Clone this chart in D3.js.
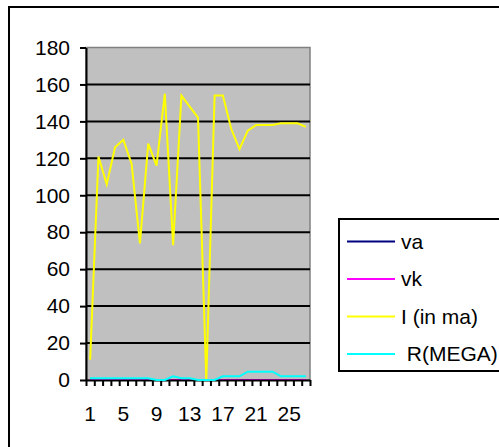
<!DOCTYPE html>
<html>
<head>
<meta charset="utf-8">
<script src="https://cdn.jsdelivr.net/npm/d3@7"></script>
<style>
  body { margin: 0; background: #fff; }
  svg { display: block; font-family: "Liberation Sans", Arial, sans-serif; }
</style>
</head>
<body>
<div id="chart"></div>
<script>
// categories on the x axis
const days = [1,2,3,4,5,6,7,8,9,10,11,12,13,14,15,16,17,18,19,20,21,22,23,24,25,26,27];
// series values
const vaValues = [0,0,0,0,0,0,0,0,0,0,0,0,0,0,0,0,0,0,0,0,0,0,0,0,0,0,0];
const vkValues = [0,0,0,0,0,0,0,0,0,0,0,0,0,0,0,0,0,0,0,0,0,0,0,0,0,0,0];
const iValues = [11,121,106,126,130,117,74,128,116,155,73,154,148,142,0,154,154,136,125,135,138,138,138,139,139,139,137];
const rValues = [1,1,1,1,1,1,1,1,0,0,2,1,1,0,0,0,2,2,2,4.5,4.5,4.5,4.5,2,2,2,2];
// tick labels
const yTicks = [0,20,40,60,80,100,120,140,160,180];
const xLabels = [1,5,9,13,17,21,25];
const seriesNames = ['va', 'vk', 'I (in ma)', ' R(MEGA)'];
const seriesColors = ['#000080', '#ff00ff', '#ffff00', '#00ffff'];

const svgW = 499, svgH = 447;
const plot = { left: 86, right: 310, top: 47.5, bottom: 380 };

const svg = d3.select('#chart').append('svg')
  .attr('width', svgW)
  .attr('height', svgH);

// outer chart border (runs off the right and bottom edges)
svg.append('rect')
  .attr('x', 9).attr('y', 7)
  .attr('width', 520).attr('height', 470)
  .attr('fill', '#fff')
  .attr('stroke', '#000').attr('stroke-width', 2);

// scales
const x = d3.scaleBand().domain(days).range([plot.left, plot.right]).padding(0);
const xEdge = d3.scaleLinear().domain([0, days.length]).range([plot.left, plot.right]);
const y = d3.scaleLinear().domain([0, 180]).range([plot.bottom, plot.top]);

// grey plot area
svg.append('rect')
  .attr('x', plot.left).attr('y', plot.top)
  .attr('width', plot.right - plot.left).attr('height', plot.bottom - plot.top)
  .attr('fill', '#c0c0c0')
  .attr('stroke', '#808080').attr('stroke-width', 1.5);

// horizontal gridlines
svg.append('g')
  .selectAll('line')
  .data(yTicks.filter(v => v > 0 && v < 180))
  .join('line')
  .attr('x1', plot.left).attr('x2', plot.right)
  .attr('y1', d => y(d)).attr('y2', d => y(d))
  .attr('stroke', '#000').attr('stroke-width', 2);

const line = vals => d3.line()
  .x((d, i) => x(days[i]) + x.bandwidth() / 2)
  .y(d => y(d))(vals);

// va and vk sit on the zero line
[vaValues, vkValues].forEach((vals, k) => {
  svg.append('path')
    .attr('d', line(vals))
    .attr('fill', 'none')
    .attr('stroke', seriesColors[k])
    .attr('stroke-width', 2);
});

// x axis tick marks at the category edges
svg.append('g')
  .attr('transform', `translate(0,${plot.bottom})`)
  .call(d3.axisBottom(xEdge).tickValues(d3.range(days.length + 1)).tickFormat('').tickSize(6).tickSizeOuter(0))
  .call(g => g.selectAll('line').attr('stroke', '#000').attr('stroke-width', 2))
  .call(g => g.select('.domain').attr('stroke', '#000').attr('stroke-width', 2));

// x labels
svg.append('g')
  .attr('transform', `translate(0,${plot.bottom})`)
  .call(d3.axisBottom(x).tickValues(xLabels).tickSize(0).tickPadding(26))
  .call(g => g.select('.domain').remove())
  .call(g => g.selectAll('text')
    .attr('font-family', '"Liberation Sans", Arial, sans-serif')
    .attr('font-size', 21).attr('fill', '#000'));

// y axis
svg.append('g')
  .attr('transform', `translate(${plot.left},0)`)
  .call(d3.axisLeft(y).tickValues(yTicks).tickSize(6).tickSizeOuter(0).tickPadding(10))
  .call(g => g.selectAll('line').attr('stroke', '#000').attr('stroke-width', 2))
  .call(g => g.select('.domain').attr('stroke', '#000').attr('stroke-width', 2))
  .call(g => g.selectAll('text')
    .attr('font-family', '"Liberation Sans", Arial, sans-serif')
    .attr('font-size', 21).attr('fill', '#000'));

// current and resistance lines
[iValues, rValues].forEach((vals, k) => {
  svg.append('path')
    .attr('d', line(vals))
    .attr('fill', 'none')
    .attr('stroke', seriesColors[k + 2])
    .attr('stroke-width', 2)
    .attr('stroke-linejoin', 'miter');
});

// legend
const legend = svg.append('g').attr('transform', 'translate(339,219)');
legend.append('rect')
  .attr('width', 170).attr('height', 152)
  .attr('fill', '#fff')
  .attr('stroke', '#000').attr('stroke-width', 2);
seriesNames.forEach((name, i) => {
  const row = legend.append('g').attr('transform', `translate(0,${22.5 + i * 37.5})`);
  row.append('line')
    .attr('x1', 8).attr('x2', 56)
    .attr('stroke', seriesColors[i]).attr('stroke-width', 2);
  row.append('text')
    .attr('x', 62).attr('y', 7)
    .attr('font-size', 21)
    .attr('xml:space', 'preserve')
    .style('white-space', 'pre')
    .text(name);
});
</script>
</body>
</html>
